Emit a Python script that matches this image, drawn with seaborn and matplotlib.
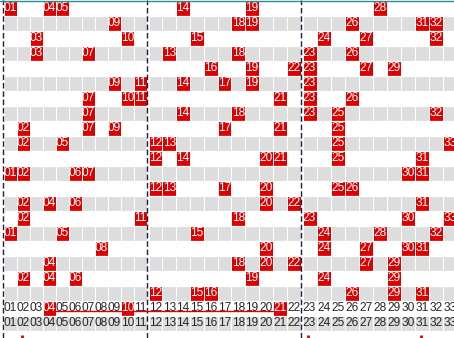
import numpy as np
import matplotlib
matplotlib.use("Agg")
import matplotlib.pyplot as plt
import seaborn as sns
from matplotlib.colors import ListedColormap
from matplotlib.lines import Line2D

# ---------------- data ----------------
numbers = [f"{i:02d}" for i in range(1, 34)]
draws = [
    [1, 4, 5, 14, 19, 28],
    [9, 18, 19, 26, 31, 32],
    [3, 10, 15, 24, 27, 32],
    [3, 7, 13, 18, 23, 26],
    [16, 19, 22, 23, 27, 29],
    [9, 11, 14, 17, 19, 23],
    [7, 10, 11, 21, 23, 26],
    [7, 14, 18, 23, 25, 32],
    [2, 7, 9, 17, 21, 25],
    [2, 5, 12, 13, 25, 33],
    [12, 14, 20, 21, 25, 31],
    [1, 2, 6, 7, 30, 31],
    [12, 13, 17, 20, 25, 26],
    [2, 4, 6, 20, 22, 31],
    [2, 11, 18, 23, 30, 33],
    [1, 5, 15, 24, 28, 32],
    [8, 20, 24, 27, 30, 31],
    [4, 18, 20, 22, 27, 29],
    [2, 4, 6, 19, 24, 29],
    [12, 15, 16, 26, 29, 31],
]
forecast = [4, 10, 21]
bottom_marks = [2, 23, 31]

RED = "#dd0000"
GRAY = "#dddddd"

sns.set_theme(style="white")
plt.rcParams["font.family"] = ["Liberation Sans", "DejaVu Sans"]

W, H = 454, 338
fig = plt.figure(figsize=(W / 100, H / 100), dpi=100, facecolor="white")

n_data = len(draws)
n_rows = n_data + 3
M = np.zeros((n_rows, 33))
M[1::2, :] = 1
annot = np.full((n_rows, 33), "", dtype=object)
for r, d in enumerate(draws):
    for n in d:
        M[r, n - 1] = 2
        annot[r, n - 1] = numbers[n - 1]
for n in forecast:
    M[n_data, n - 1] = 2
annot[n_data, :] = numbers
annot[n_data + 1, :] = numbers

cmap = ListedColormap(["white", GRAY, RED])

# segment geometry in pixels (left, right)
segments = [(4, 147), (148.5, 300.5), (302.5, 457.3)]
top_px = 1
row_h = 15
axes = []
for s, (x0, x1) in enumerate(segments):
    ax = fig.add_axes([x0 / W, 1 - (top_px + n_rows * row_h) / H,
                       (x1 - x0) / W, n_rows * row_h / H])
    cols = slice(11 * s, 11 * s + 11)
    sns.heatmap(M[:, cols], cmap=cmap, vmin=0, vmax=2, cbar=False,
                annot=annot[:, cols], fmt="", annot_kws={"fontsize": 8.6},
                linewidths=0.7, linecolor="white",
                xticklabels=False, yticklabels=False, ax=ax)
    for y in range(n_rows + 1):
        ax.axhline(y, color="white", lw=0.9, zorder=1.5)
    ax.set_xlabel("")
    ax.set_ylabel("")
    axes.append(ax)


def col_ax(n):
    return axes[(n - 1) // 11], (n - 1) % 11


# small red marks on the partly visible bottom row
for n in bottom_marks:
    ax, c = col_ax(n)
    ax.plot([c + 0.4, c + 0.4], [n_data + 2.27, n_data + 2.6],
            color=RED, lw=2, solid_capstyle="butt", zorder=5)

# red trend line between forecast boxes
inv = fig.transFigure.inverted()
yline = n_data + 0.7
for a, b in zip(forecast[:-1], forecast[1:]):
    axa, ca = col_ax(a)
    axb, cb = col_ax(b)
    p0 = inv.transform(axa.transData.transform((ca + 1, yline)))
    p1 = inv.transform(axb.transData.transform((cb, yline)))
    fig.add_artist(Line2D([p0[0], p1[0]], [p0[1], p1[1]],
                          transform=fig.transFigure, color=RED, lw=1))

# overlay: dashed separators and top border
ov = fig.add_axes([0, 0, 1, 1])
ov.set_xlim(0, W)
ov.set_ylim(H, 0)
ov.axis("off")
ov.patch.set_alpha(0)
for i, (x0, x1) in enumerate(segments):
    ov.axvline(x0 - (1.5 if i == 0 else 1.2), color="#1e1e40", lw=1,
               ls=(0, (4, 2)))
ov.axhline(0.5, color="#2e8b8b", lw=1)

fig.savefig("out.png", dpi=100, facecolor="white")
